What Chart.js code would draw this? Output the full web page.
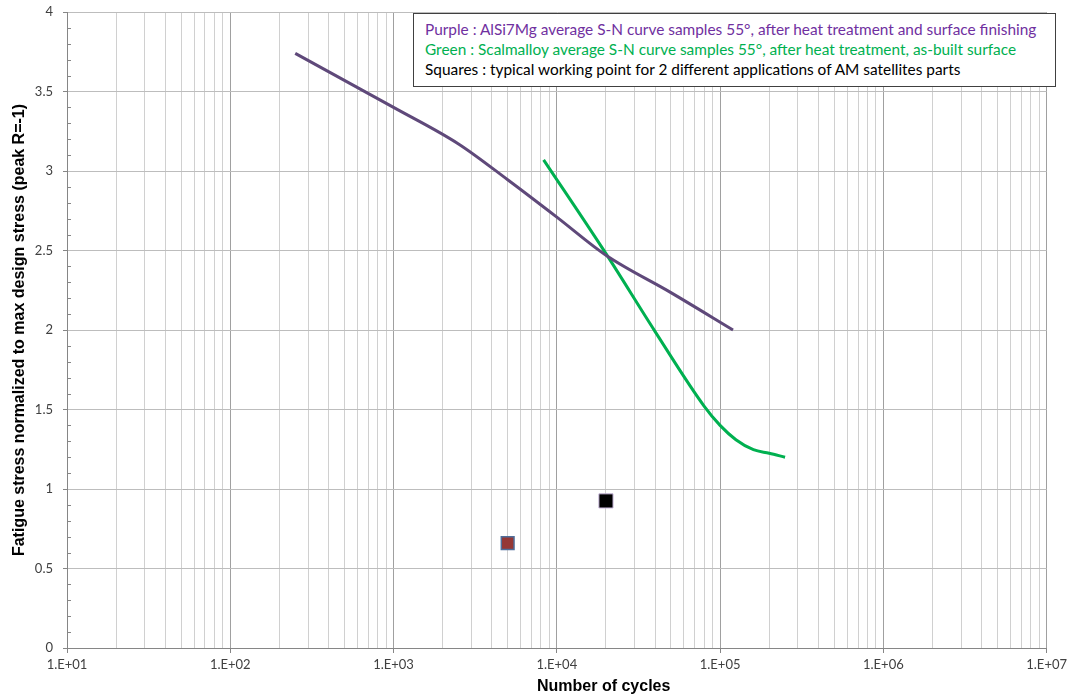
<!DOCTYPE html>
<html>
<head>
<meta charset="utf-8">
<script src="https://cdn.jsdelivr.net/npm/chart.js@4/dist/chart.umd.min.js"></script>
<style>
    html, body { margin: 0; padding: 0; background: #fff; }
    #wrap { position: relative; width: 1071px; height: 699px; }
    #legendBox {
        position: absolute; left: 413px; top: 13px; width: 641px; height: 72px;
        border: 1px solid #404040; background: #fff;
        font-family: Lato, 'Open Sans', sans-serif; font-size: 15.4px;
        box-sizing: content-box;
    }
    #legendBox div { position: absolute; left: 11px; white-space: nowrap; }
    #xTitle {
        position: absolute; left: 537px; top: 677px;
        font-family: 'Liberation Sans', Arial, sans-serif; font-weight: bold; font-size: 16px; color: #000;
    }
</style>
</head>
<body>
<div id="wrap">
    <canvas id="snChart" width="1071" height="699"></canvas>
    <div id="legendBox">
        <div id="leg1" style="top: 6px; color: #7030A0;"></div>
        <div id="leg2" style="top: 26px; color: #00B050;"></div>
        <div id="leg3" style="top: 46px; color: #000;"></div>
    </div>
    <div id="xTitle"></div>
</div>
<script>
// x axis: decades and their labels
const xDecades = [1e1, 1e2, 1e3, 1e4, 1e5, 1e6, 1e7];
const xTickLabels = ['1.E+01', '1.E+02', '1.E+03', '1.E+04', '1.E+05', '1.E+06', '1.E+07'];
const yTickLabels = ['0', '0.5', '1', '1.5', '2', '2.5', '3', '3.5', '4'];

// purple curve: AlSi7Mg
const purpleCycles = [250, 1000, 2500, 5000, 10000, 20000, 50000, 120000];
const purpleStress = [3.74, 3.40, 3.17, 2.945, 2.71, 2.47, 2.235, 2.00];

// green curve: Scalmalloy
const greenCycles = [8300, 20000, 40000, 80000, 100000, 125000, 160000, 200000, 250000];
const greenStress = [3.07, 2.48, 1.99, 1.52, 1.40, 1.31, 1.247, 1.225, 1.20];

// working points (squares)
const squareCycles = [5000, 20000];
const squareStress = [0.66, 0.925];

const legendLines = [
    'Purple : AlSi7Mg average S-N curve samples 55°,  after heat treatment and surface finishing',
    'Green : Scalmalloy  average S-N curve samples 55°,  after heat treatment, as-built surface',
    'Squares : typical working point for 2 different applications of AM satellites parts'
];
const xTitle = 'Number of cycles';
const yTitle = 'Fatigue stress normalized to max design stress (peak R=-1)';

document.getElementById('leg1').textContent = legendLines[0];
document.getElementById('leg2').textContent = legendLines[1];
document.getElementById('leg3').textContent = legendLines[2];
document.getElementById('xTitle').textContent = xTitle;

function toPoints(xs, ys) {
    return xs.map((x, i) => ({ x: x, y: ys[i] }));
}

function isDecade(v) {
    const l = Math.log10(v);
    return Math.abs(l - Math.round(l)) < 1e-9;
}

function isHalf(v) {
    return Math.abs(v * 2 - Math.round(v * 2)) < 1e-6;
}

// small inward tick marks on the y axis for the 0.1 steps
const innerTicks = {
    id: 'innerTicks',
    afterDraw(chart) {
        const ctx = chart.ctx;
        const yScale = chart.scales.y;
        const left = chart.chartArea.left;
        ctx.save();
        ctx.strokeStyle = '#868686';
        ctx.lineWidth = 1;
        yScale.ticks.forEach(t => {
            if (isHalf(t.value)) return;
            const py = Math.round(yScale.getPixelForValue(t.value)) + 0.5;
            ctx.beginPath();
            ctx.moveTo(left, py);
            ctx.lineTo(left + 4, py);
            ctx.stroke();
        });
        ctx.restore();
    }
};

const ctx = document.getElementById('snChart').getContext('2d');
new Chart(ctx, {
    type: 'scatter',
    data: {
        datasets: [{
            label: 'AlSi7Mg',
            data: toPoints(purpleCycles, purpleStress),
            showLine: true,
            borderColor: '#5F497A',
            borderWidth: 3,
            pointRadius: 0,
            cubicInterpolationMode: 'monotone'
        }, {
            label: 'Scalmalloy',
            data: toPoints(greenCycles, greenStress),
            showLine: true,
            borderColor: '#00B050',
            borderWidth: 3,
            pointRadius: 0,
            cubicInterpolationMode: 'monotone'
        }, {
            label: 'Application 1',
            data: [{ x: squareCycles[0], y: squareStress[0] }],
            pointStyle: 'rect',
            pointRadius: 9,
            backgroundColor: '#953735',
            borderColor: '#4F6E9A',
            borderWidth: 1.5
        }, {
            label: 'Application 2',
            data: [{ x: squareCycles[1], y: squareStress[1] }],
            pointStyle: 'rect',
            pointRadius: 10,
            backgroundColor: '#000000',
            borderColor: '#C9B8DC',
            borderWidth: 1
        }]
    },
    options: {
        responsive: false,
        animation: false,
        layout: { padding: { left: 0, top: 12, right: 24, bottom: 0 } },
        plugins: {
            legend: { display: false },
            tooltip: { enabled: false }
        },
        scales: {
            x: {
                type: 'logarithmic',
                min: 10,
                max: 1e7,
                afterBuildTicks: axis => {
                    const vals = [];
                    xDecades.forEach((d, i) => {
                        if (i === xDecades.length - 1) { vals.push(d); return; }
                        for (let m = 1; m <= 9; m++) vals.push(m * d);
                    });
                    axis.ticks = vals.map(v => ({ value: v }));
                },
                afterFit: axis => { axis.height = 51; },
                border: { color: '#868686', width: 1 },
                grid: {
                    color: c => isDecade(c.tick.value) ? '#A0A0A0' : '#D0D0D0',
                    tickColor: c => isDecade(c.tick.value) ? '#868686' : 'rgba(0,0,0,0)',
                    tickLength: 5,
                    lineWidth: 1
                },
                ticks: {
                    autoSkip: false,
                    maxRotation: 0,
                    padding: 4,
                    color: '#404040',
                    font: { family: 'Lato', size: 13 },
                    callback: value => {
                        const i = xDecades.findIndex(d => Math.abs(d - value) < 1e-6 * d);
                        return i >= 0 ? xTickLabels[i] : '';
                    }
                }
            },
            y: {
                type: 'linear',
                min: 0,
                max: 4,
                afterFit: axis => {
                    axis.width = 67;
                    axis.paddingTop = 0; // let layout padding set the plot top
                },
                border: { color: '#868686', width: 1 },
                grid: {
                    color: c => isHalf(c.tick.value) ? '#BDBDBD' : 'rgba(0,0,0,0)',
                    tickColor: c => isHalf(c.tick.value) ? '#868686' : 'rgba(0,0,0,0)',
                    tickLength: 4,
                    lineWidth: 1
                },
                ticks: {
                    stepSize: 0.1,
                    autoSkip: false,
                    padding: 10,
                    color: '#404040',
                    font: { family: 'Lato', size: 13 },
                    callback: value => isHalf(value) ? yTickLabels[Math.round(value * 2)] : ''
                },
                title: {
                    display: true,
                    text: yTitle,
                    color: '#000',
                    font: { family: 'Liberation Sans', weight: 'bold', size: 16 },
                    padding: { top: 10, bottom: 0 }
                }
            }
        }
    },
    plugins: [innerTicks]
});
</script>
</body>
</html>
